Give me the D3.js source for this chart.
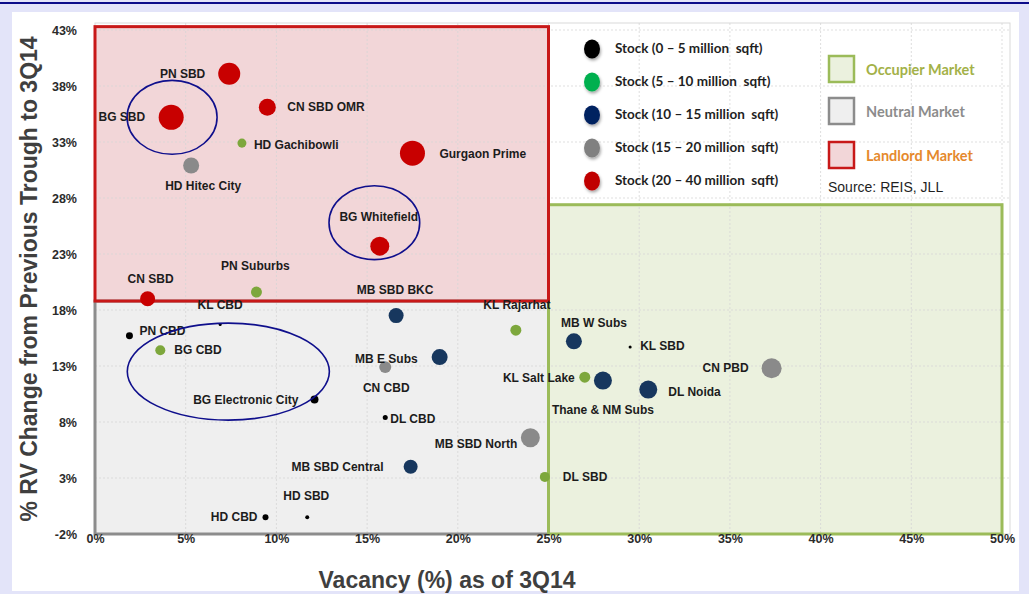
<!DOCTYPE html>
<html>
<head>
<meta charset="utf-8">
<script src="https://cdn.jsdelivr.net/npm/d3@7"></script>
<style>
  html, body { margin: 0; padding: 0; background: #e3e4f9; }
  svg { display: block; }
</style>
</head>
<body>
<svg id="chart" width="1029" height="594"></svg>
<script>
// ---- data ---------------------------------------------------------------
const markets = [
  "PN SBD", "BG SBD", "CN SBD OMR", "HD Gachibowli", "HD Hitec City",
  "Gurgaon Prime", "BG Whitefield", "PN Suburbs", "CN SBD", "KL CBD",
  "PN CBD", "BG CBD", "BG Electronic City", "MB SBD BKC", "KL Rajarhat",
  "MB E Subs", "CN CBD", "DL CBD", "MB SBD North", "MB SBD Central",
  "DL SBD", "HD SBD", "HD CBD", "MB W Subs", "KL SBD",
  "KL Salt Lake", "Thane & NM Subs", "DL Noida", "CN PBD"
];
// Vacancy (%) as of 3Q14
const vacancy = [
  7.4, 4.2, 9.5, 8.1, 5.3,
  17.5, 15.7, 8.9, 2.9, 6.9,
  1.9, 3.6, 12.1, 16.6, 23.2,
  19.0, 16.0, 16.0, 24.0, 17.4,
  24.8, 11.7, 9.4, 26.4, 29.5,
  27.0, 28.0, 30.5, 37.3
];
// % RV change from previous trough to 3Q14
const rvChange = [
  39.1, 35.2, 36.1, 32.9, 30.9,
  32.0, 23.7, 19.6, 19.0, 16.7,
  15.7, 14.4, 10.0, 17.5, 16.2,
  13.8, 12.9, 8.4, 6.6, 4.0,
  3.1, -0.5, -0.5, 15.2, 14.7,
  12.0, 11.7, 10.9, 12.8
];
// stock band (index into stockBands)
const stockBand = [
  4, 4, 4, 1, 3,
  4, 4, 1, 4, 0,
  0, 1, 0, 2, 1,
  2, 3, 0, 3, 2,
  1, 0, 0, 2, 0,
  1, 2, 2, 3
];
// bubble size value
const bubbleSize = [
  31, 40, 18.5, 5.2, 16.4,
  40, 23, 7.7, 14.4, 0.6,
  3.1, 6.4, 4.1, 14.4, 7.7,
  16.4, 9.2, 1.6, 23, 12.5,
  6.4, 1.0, 2.3, 16.4, 0.6,
  7.7, 20.7, 20.7, 25.6
];
const stockBands = [
  "Stock (0 \u2013 5 million  sqft)",
  "Stock (5 \u2013 10 million  sqft)",
  "Stock (10 \u2013 15 million  sqft)",
  "Stock (15 \u2013 20 million  sqft)",
  "Stock (20 \u2013 40 million  sqft)"
];
const marketTypes = ["Occupier Market", "Neutral Market", "Landlord Market"];
const xTicks = [0, 5, 10, 15, 20, 25, 30, 35, 40, 45, 50];
const yTicks = [-2, 3, 8, 13, 18, 23, 28, 33, 38, 43];

// zone thresholds (in axis units)
const vacancySplit = 25;
const landlordFloor = 18.8;
const occupierCeiling = 27.4;

// highlighted Bengaluru clusters: centre (vacancy, rv) and half-extent
const highlights = [
  { cx: 4.25, cy: 35.2, rx: 2.48, ry: 3.3 },
  { cx: 15.4, cy: 25.8, rx: 2.5, ry: 3.3 },
  { cx: 7.35, cy: 12.5, rx: 5.57, ry: 4.33 }
];

// ---- styles -------------------------------------------------------------
const pointColors = ["#000000", "#7da73c", "#17375e", "#8a8a8a", "#c80000"];
const legendColors = ["#000000", "#00b050", "#002060", "#808080", "#c00000"];
const zoneStyle = {
  occupier: { fill: "#ebf1de", stroke: "#9bbb59", text: "#a3b148" },
  neutral:  { fill: "#efefef", stroke: "#8c8c8c", text: "#8c8c8c" },
  landlord: { fill: "#f2d6d8", stroke: "#c81818", text: "#e5892c" }
};

// where each label sits relative to its bubble: [anchor, dx, dy]
const labelPlace = {
  "PN SBD": ["end", -24, 0], "BG SBD": ["end", -26, 0],
  "CN SBD OMR": ["start", 20, 0], "HD Gachibowli": ["start", 12, 2],
  "HD Hitec City": ["middle", 12, 20], "Gurgaon Prime": ["start", 27, 1],
  "BG Whitefield": ["middle", -1, -29], "PN Suburbs": ["middle", -1, -26],
  "CN SBD": ["middle", 3, -20], "KL CBD": ["middle", 0, -20],
  "PN CBD": ["start", 10, -5], "BG CBD": ["start", 14, 0],
  "BG Electronic City": ["end", -16, 0], "MB SBD BKC": ["middle", -1, -26],
  "KL Rajarhat": ["middle", 1, -25], "MB E Subs": ["end", -22, 2],
  "CN CBD": ["middle", 1, 21], "DL CBD": ["start", 5, 1],
  "MB SBD North": ["end", -13, 6], "MB SBD Central": ["end", -27, 0],
  "DL SBD": ["start", 18, 0], "HD SBD": ["middle", -1, -21],
  "HD CBD": ["end", -8, 0], "MB W Subs": ["middle", 20, -18],
  "KL SBD": ["start", 10, -1], "KL Salt Lake": ["end", -10, 1],
  "Thane & NM Subs": ["middle", 0, 29], "DL Noida": ["start", 20, 2],
  "CN PBD": ["end", -23, 0]
};

const sans = "'Liberation Sans',Arial,sans-serif";

// ---- layout -------------------------------------------------------------
const svg = d3.select("#chart");
const W = 1029, H = 594;

const x = d3.scaleLinear().domain([0, 50]).range([95, 1002]);
const y = d3.scaleLinear().domain([-2, 43]).range([534, 30]);
const r = d3.scaleSqrt().domain([0, 40]).range([0, 12.5]);

// page frame
svg.append("rect").attr("width", W).attr("height", H).attr("fill", "#e3e4f9");
svg.append("rect").attr("x", 0).attr("y", 2).attr("width", W).attr("height", 2).attr("fill", "#0c0c8a");
svg.append("rect").attr("x", 12).attr("y", 12).attr("width", 1007).attr("height", 579).attr("fill", "#ffffff");

// plot frame
const frameTop = 23, frameRight = 1010;
svg.append("rect")
  .attr("x", x(0)).attr("y", frameTop)
  .attr("width", frameRight - x(0)).attr("height", y(-2) - frameTop)
  .attr("fill", "none").attr("stroke", "#d9d9d9").attr("stroke-width", 1);

// zones
const zones = [
  { key: "neutral",  x0: 0, x1: vacancySplit, y0: -2, y1: landlordFloor },
  { key: "occupier", x0: vacancySplit, x1: 50, y0: -2, y1: occupierCeiling },
  { key: "landlord", x0: 0, x1: vacancySplit, y0: landlordFloor, y1: 43.3 }
];
svg.append("g").selectAll("rect").data(zones).join("rect")
  .attr("x", d => x(d.x0)).attr("y", d => y(d.y1))
  .attr("width", d => x(d.x1) - x(d.x0)).attr("height", d => y(d.y0) - y(d.y1))
  .attr("fill", d => zoneStyle[d.key].fill);

// gridlines
const grid = svg.append("g").attr("stroke", "#d6d6d6").attr("stroke-width", 1)
  .attr("stroke-dasharray", "2,2").attr("opacity", 0.8);
grid.selectAll("line.v").data(xTicks.slice(1)).join("line").attr("class", "v")
  .attr("x1", d => x(d)).attr("x2", d => x(d)).attr("y1", frameTop).attr("y2", y(-2));
grid.selectAll("line.h").data(yTicks.slice(1)).join("line").attr("class", "h")
  .attr("y1", d => y(d)).attr("y2", d => y(d)).attr("x1", x(0)).attr("x2", frameRight);

// zone outlines
svg.append("g").selectAll("rect").data(zones).join("rect")
  .attr("x", d => x(d.x0)).attr("y", d => y(d.y1))
  .attr("width", d => x(d.x1) - x(d.x0)).attr("height", d => y(d.y0) - y(d.y1))
  .attr("fill", "none").attr("stroke", d => zoneStyle[d.key].stroke).attr("stroke-width", 3);

// axes
const yAxis = svg.append("g").attr("transform", `translate(${x(0)},0)`)
  .call(d3.axisLeft(y).tickValues(yTicks).tickFormat(d => d + "%").tickSize(0).tickPadding(18));
const xAxis = svg.append("g").attr("transform", `translate(0,${y(-2)})`)
  .call(d3.axisBottom(x).tickValues(xTicks).tickFormat(d => d + "%").tickSize(0).tickPadding(0));
[yAxis, xAxis].forEach(g => {
  g.select(".domain").remove();
  g.selectAll("text").attr("font-family", sans).attr("font-weight", "bold")
    .attr("font-size", 12.5).attr("fill", "#2b2b2b");
});

// bubbles
const points = markets.map((m, i) => ({
  name: m, vx: vacancy[i], vy: rvChange[i], band: stockBand[i], size: bubbleSize[i]
}));
svg.append("g").selectAll("circle").data(points).join("circle")
  .attr("cx", d => x(d.vx)).attr("cy", d => y(d.vy))
  .attr("r", d => Math.max(1.4, r(d.size)))
  .attr("fill", d => pointColors[d.band]);

// bubble labels
svg.append("g").selectAll("text").data(points).join("text")
  .attr("x", d => x(d.vx) + labelPlace[d.name][1])
  .attr("y", d => y(d.vy) + labelPlace[d.name][2])
  .attr("text-anchor", d => labelPlace[d.name][0])
  .attr("dominant-baseline", "central")
  .attr("font-family", sans).attr("font-weight", "bold")
  .attr("font-size", 12).attr("fill", "#1c1c1c")
  .text(d => d.name);

// highlight rings
svg.append("g").selectAll("ellipse").data(highlights).join("ellipse")
  .attr("cx", d => x(d.cx)).attr("cy", d => y(d.cy))
  .attr("rx", d => x(d.rx) - x(0)).attr("ry", d => y(0) - y(d.ry))
  .attr("fill", "none").attr("stroke", "#0f0f8c").attr("stroke-width", 1.6);

// axis titles
svg.append("text")
  .attr("transform", `translate(37,${(y(43) + y(-2)) / 2 - 3}) rotate(-90)`)
  .attr("text-anchor", "middle")
  .attr("font-family", sans).attr("font-weight", "bold")
  .attr("font-size", 23).attr("fill", "#3f3f3f")
  .text("% RV Change from Previous Trough to 3Q14");
svg.append("text")
  .attr("x", 447).attr("y", 580)
  .attr("text-anchor", "middle").attr("dominant-baseline", "central")
  .attr("font-family", sans).attr("font-weight", "bold")
  .attr("font-size", 23).attr("fill", "#3f3f3f")
  .text("Vacancy (%) as of 3Q14");

// legend: stock bands
const defs = svg.append("defs");
const shadow = defs.append("filter").attr("id", "soft").attr("x", "-50%").attr("y", "-50%")
  .attr("width", "200%").attr("height", "200%");
shadow.append("feDropShadow").attr("dx", 1).attr("dy", 2).attr("stdDeviation", 1.4)
  .attr("flood-color", "#000").attr("flood-opacity", 0.35);

const legY = d3.scalePoint().domain(d3.range(stockBands.length)).range([49, 181]);
const leg = svg.append("g");
leg.selectAll("ellipse").data(stockBands).join("ellipse")
  .attr("cx", 592).attr("cy", (d, i) => legY(i))
  .attr("rx", 8).attr("ry", 9.5)
  .attr("fill", (d, i) => legendColors[i]).attr("filter", "url(#soft)");
leg.selectAll("text").data(stockBands).join("text")
  .attr("x", 615).attr("y", (d, i) => legY(i) - 1)
  .attr("dominant-baseline", "central")
  .attr("font-family", "Lato,'Open Sans',sans-serif").attr("font-weight", "bold")
  .attr("font-size", 13.5).attr("fill", "#1f1f1f")
  .style("white-space", "pre")
  .text(d => d);

// legend: market types
const mkKeys = ["occupier", "neutral", "landlord"];
const mkY = [69, 111, 155];
const mk = svg.append("g");
mk.selectAll("rect").data(marketTypes).join("rect")
  .attr("x", 829).attr("y", (d, i) => mkY[i] - 13)
  .attr("width", 25).attr("height", 26)
  .attr("fill", (d, i) => zoneStyle[mkKeys[i]].fill)
  .attr("stroke", (d, i) => zoneStyle[mkKeys[i]].stroke).attr("stroke-width", 2.5);
mk.selectAll("text").data(marketTypes).join("text")
  .attr("x", 866).attr("y", (d, i) => mkY[i])
  .attr("dominant-baseline", "central")
  .attr("font-family", "Lato,'Open Sans',sans-serif").attr("font-weight", "bold")
  .attr("font-size", 14.5)
  .attr("fill", (d, i) => zoneStyle[mkKeys[i]].text)
  .text(d => d);

svg.append("text")
  .attr("x", 828).attr("y", 187).attr("dominant-baseline", "central")
  .attr("font-family", sans).attr("font-size", 14).attr("fill", "#1f1f1f")
  .text("Source: REIS, JLL");
</script>
</body>
</html>
